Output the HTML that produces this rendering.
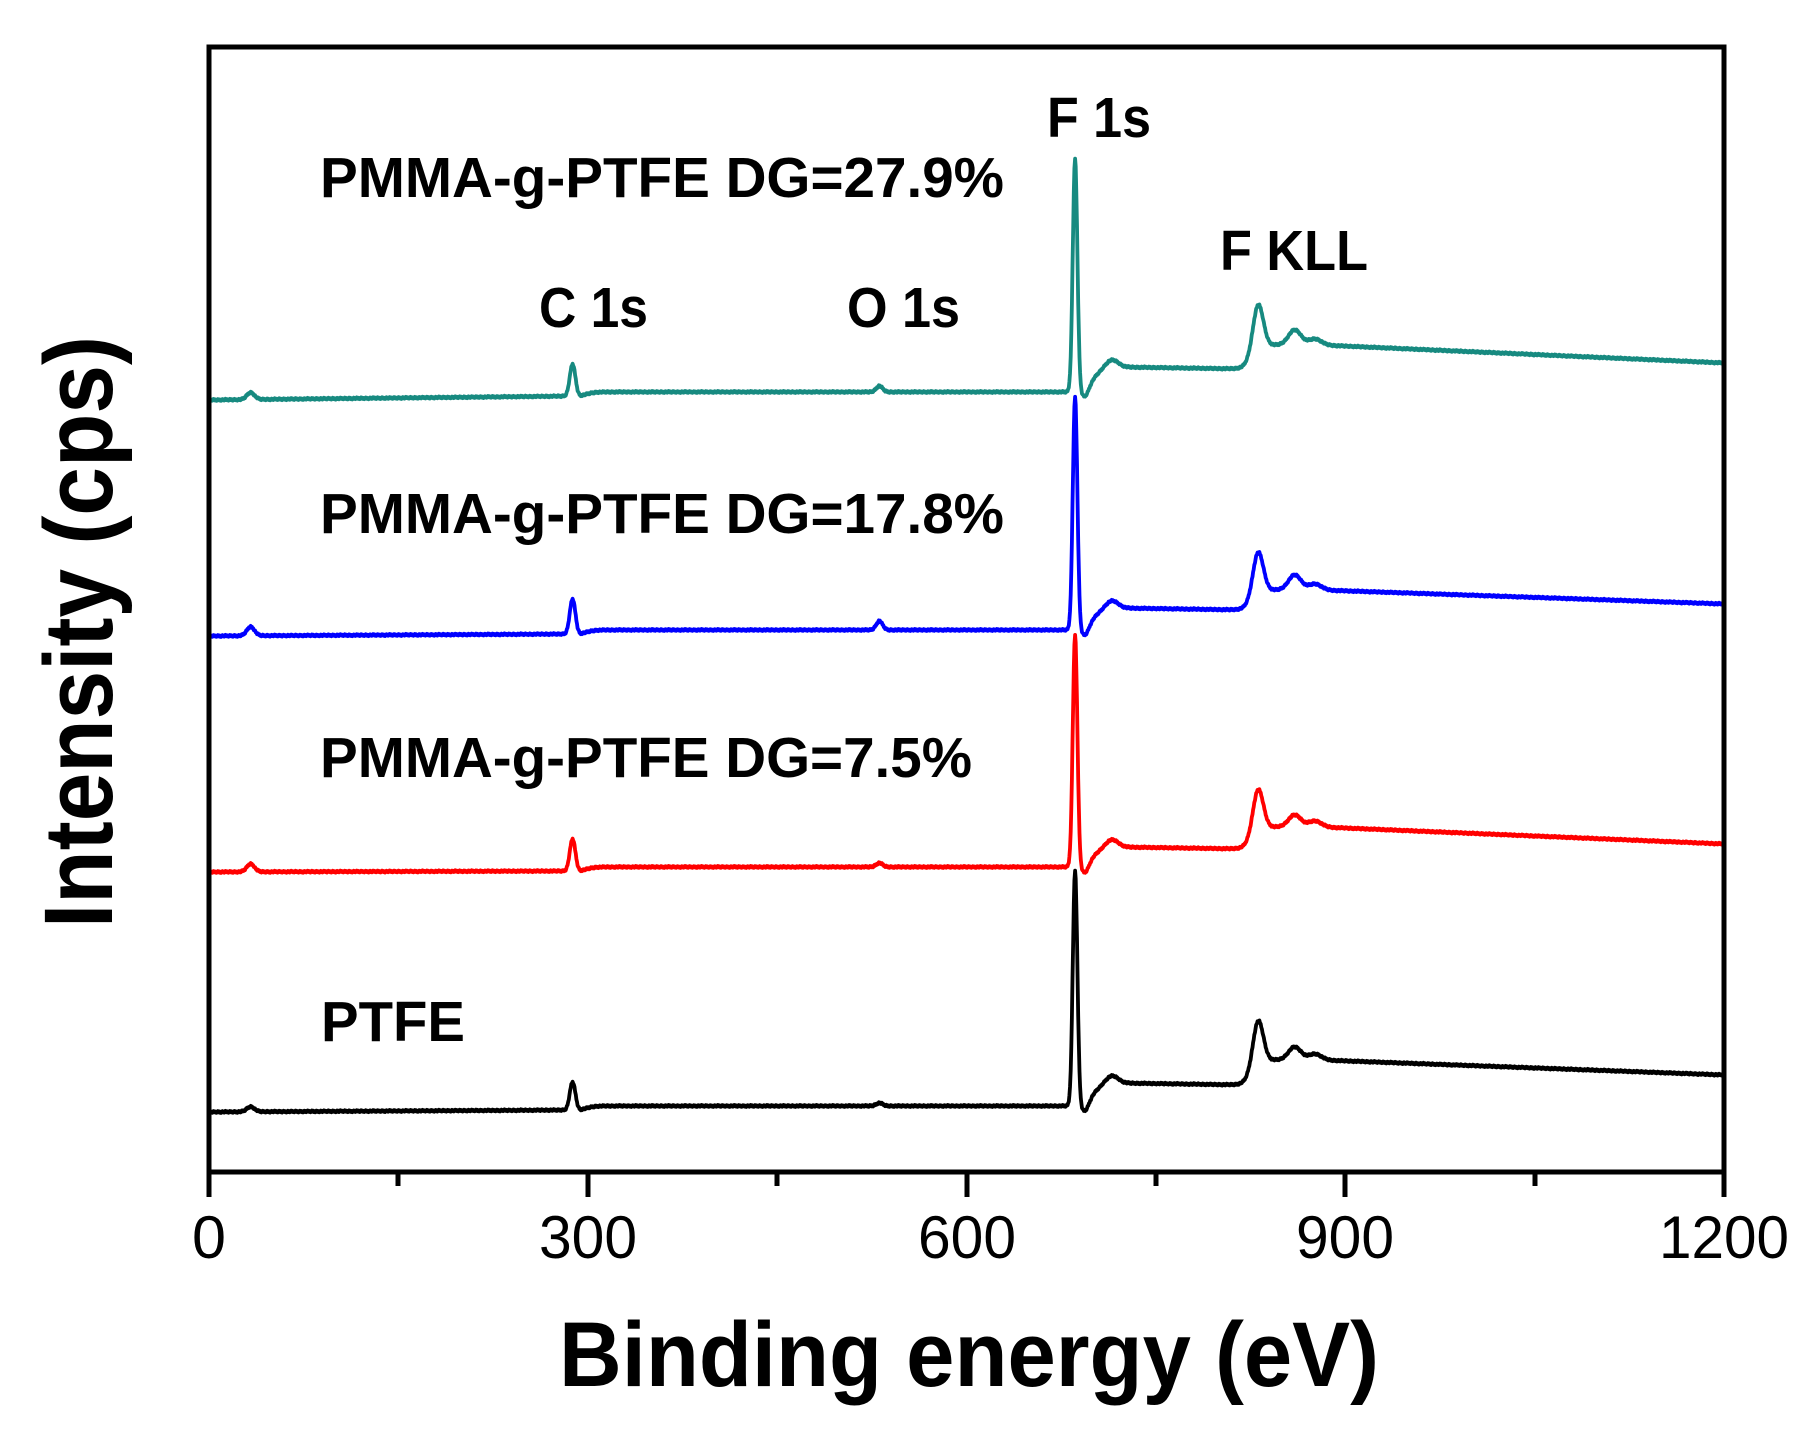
<!DOCTYPE html>
<html><head><meta charset="utf-8"><style>
html,body{margin:0;padding:0;background:#fff;}
svg{display:block;}
text{font-family:"Liberation Sans",Arial,sans-serif;fill:#000;}
</style></head><body>
<svg id="s" width="1819" height="1444" viewBox="0 0 1819 1444" xmlns="http://www.w3.org/2000/svg">
<rect width="1819" height="1444" fill="#fff"/>
<g id="series" fill="none" stroke-width="3.8" stroke-linejoin="round"></g>
<rect x="209" y="47" width="1515" height="1125" fill="none" stroke="#000" stroke-width="5"/>
<g stroke="#000" stroke-width="5">
<line x1="209" y1="1172" x2="209" y2="1197"/><line x1="588" y1="1172" x2="588" y2="1197"/>
<line x1="967" y1="1172" x2="967" y2="1197"/><line x1="1345" y1="1172" x2="1345" y2="1197"/>
<line x1="1724" y1="1172" x2="1724" y2="1197"/>
<line x1="398" y1="1172" x2="398" y2="1186"/><line x1="777" y1="1172" x2="777" y2="1186"/>
<line x1="1156" y1="1172" x2="1156" y2="1186"/><line x1="1535" y1="1172" x2="1535" y2="1186"/>
</g>
<g font-size="60" text-anchor="middle">
<text x="209" y="1258" textLength="34" lengthAdjust="spacingAndGlyphs">0</text>
<text x="588" y="1258" textLength="98" lengthAdjust="spacingAndGlyphs">300</text>
<text x="967" y="1258" textLength="98" lengthAdjust="spacingAndGlyphs">600</text>
<text x="1345" y="1258" textLength="98" lengthAdjust="spacingAndGlyphs">900</text>
<text x="1724" y="1258" textLength="130" lengthAdjust="spacingAndGlyphs">1200</text>
</g>
<text x="559" y="1386" font-size="92" font-weight="bold" textLength="820" lengthAdjust="spacingAndGlyphs">Binding energy (eV)</text>
<text transform="translate(112,928) rotate(-90)" x="0" y="0" font-size="97" font-weight="bold" textLength="592" lengthAdjust="spacingAndGlyphs">Intensity (cps)</text>
<g font-size="57" font-weight="bold">
<text x="320" y="197" textLength="684" lengthAdjust="spacingAndGlyphs">PMMA-g-PTFE DG=27.9%</text>
<text x="320" y="533" textLength="684" lengthAdjust="spacingAndGlyphs">PMMA-g-PTFE DG=17.8%</text>
<text x="320" y="777" textLength="652" lengthAdjust="spacingAndGlyphs">PMMA-g-PTFE DG=7.5%</text>
<text x="321" y="1041" textLength="144" lengthAdjust="spacingAndGlyphs">PTFE</text>
<text x="1047" y="137" textLength="104" lengthAdjust="spacingAndGlyphs">F 1s</text>
<text x="539" y="327" textLength="109" lengthAdjust="spacingAndGlyphs">C 1s</text>
<text x="847" y="327" textLength="113" lengthAdjust="spacingAndGlyphs">O 1s</text>
<text x="1220" y="270" textLength="148" lengthAdjust="spacingAndGlyphs">F KLL</text>
</g>
</svg>
<script>
(function(){
function g(E,c,s){var d=(E-c)/s;return Math.exp(-0.5*d*d);}
function sig(x){return 1/(1+Math.exp(-x));}
var S=[
 {c:"#178a80",y0:400,ya:392,pk:160,pl:367,kll:302,sec:330,af:345,end:363,cH:32,oH:6,sH:7},
 {c:"#0000ff",y0:636,ya:630,pk:398,pl:608,kll:550,sec:575,af:590,end:604,cH:35,oH:9,sH:9},
 {c:"#ff0000",y0:872,ya:867,pk:636,pl:847,kll:787,sec:815,af:827,end:844,cH:32,oH:4,sH:8},
 {c:"#000000",y0:1112,ya:1106,pk:872,pl:1083,kll:1018,sec:1047,af:1060,end:1075,cH:28,oH:3,sH:5}
];
var grp=document.getElementById("series");
S.forEach(function(p){
 var pts=[];
 for(var E=0;E<=1200;E+=0.5){
  var y,pre;
  if(E<295) pre=p.y0+((p.ya+4)-p.y0)*(E/295);
  else pre=p.ya+4*(1-sig((E-300)/3));
  var plat=p.pl+2*(E-720)/100;
  var tail;
  if(E<880) tail=p.af; else tail=p.af+(p.end-p.af)*(E-880)/320;
  var step=sig((E-825)/3);
  var after=plat*(1-step)+tail*step;
  var rise=sig((E-700)/5);
  var base=(E<684)?pre:(p.ya*(1-rise)+after*rise);
  y=base;
  y-=p.sH*g(E,33,3);
  y-=p.cH*g(E,288,2.2);
  y-=p.oH*g(E,531,2.5);
  y-=(p.ya-p.pk)*g(E,686,1.8);
  y+=10*g(E,694,3)*(E>688?1:0);
  y-=8*g(E,715,5);
  y-=(p.af-p.kll)*g(E,831,4);
  y-=(p.af-p.sec)*g(E,860,5);
  y-=6*g(E,876,5);
  y+=((E*7919)%13)/13*2-1;
  var x=209+E*1515/1200;
  pts.push(x.toFixed(1)+","+y.toFixed(1));
 }
 var pl=document.createElementNS("http://www.w3.org/2000/svg","polyline");
 pl.setAttribute("points",pts.join(" "));
 pl.setAttribute("stroke",p.c);
 grp.appendChild(pl);
});
})();
</script>
</body></html>
